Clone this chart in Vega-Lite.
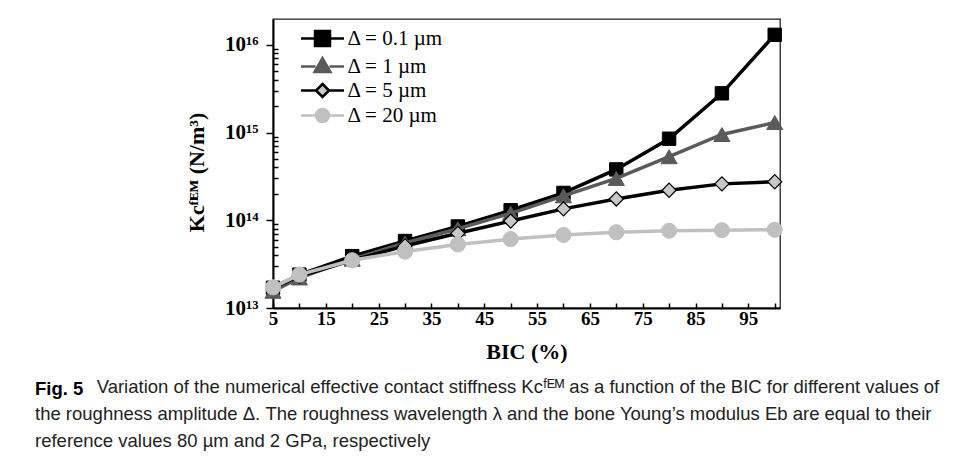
{
  "$schema": "https://vega.github.io/schema/vega-lite/v6.json",
  "width": 507,
  "height": 289,
  "autosize": "none",
  "padding": {"left": 273, "top": 19, "right": 179, "bottom": 161},
  "background": "white",
  "config": {
    "view": {"stroke": "#222", "strokeWidth": 1.3},
    "font": "Liberation Serif"
  },
  "data": {
    "values": [
      {"bic": 5, "k": 1.7e13, "d": "Δ = 0.1 µm"},
      {"bic": 10, "k": 2.4e13, "d": "Δ = 0.1 µm"},
      {"bic": 20, "k": 3.9e13, "d": "Δ = 0.1 µm"},
      {"bic": 30, "k": 5.8e13, "d": "Δ = 0.1 µm"},
      {"bic": 40, "k": 8.5e13, "d": "Δ = 0.1 µm"},
      {"bic": 50, "k": 1.3e14, "d": "Δ = 0.1 µm"},
      {"bic": 60, "k": 2.05e14, "d": "Δ = 0.1 µm"},
      {"bic": 70, "k": 3.8e14, "d": "Δ = 0.1 µm"},
      {"bic": 80, "k": 8.5e14, "d": "Δ = 0.1 µm"},
      {"bic": 90, "k": 2.8e15, "d": "Δ = 0.1 µm"},
      {"bic": 100, "k": 1.3e16, "d": "Δ = 0.1 µm"},
      {"bic": 5, "k": 1.55e13, "d": "Δ = 1 µm"},
      {"bic": 10, "k": 2.2e13, "d": "Δ = 1 µm"},
      {"bic": 20, "k": 3.6e13, "d": "Δ = 1 µm"},
      {"bic": 30, "k": 5.5e13, "d": "Δ = 1 µm"},
      {"bic": 40, "k": 8.0e13, "d": "Δ = 1 µm"},
      {"bic": 50, "k": 1.2e14, "d": "Δ = 1 µm"},
      {"bic": 60, "k": 1.9e14, "d": "Δ = 1 µm"},
      {"bic": 70, "k": 3.0e14, "d": "Δ = 1 µm"},
      {"bic": 80, "k": 5.3e14, "d": "Δ = 1 µm"},
      {"bic": 90, "k": 9.5e14, "d": "Δ = 1 µm"},
      {"bic": 100, "k": 1.3e15, "d": "Δ = 1 µm"},
      {"bic": 5, "k": 1.7e13, "d": "Δ = 5 µm"},
      {"bic": 10, "k": 2.3e13, "d": "Δ = 5 µm"},
      {"bic": 20, "k": 3.5e13, "d": "Δ = 5 µm"},
      {"bic": 30, "k": 5.1e13, "d": "Δ = 5 µm"},
      {"bic": 40, "k": 7.1e13, "d": "Δ = 5 µm"},
      {"bic": 50, "k": 9.8e13, "d": "Δ = 5 µm"},
      {"bic": 60, "k": 1.35e14, "d": "Δ = 5 µm"},
      {"bic": 70, "k": 1.75e14, "d": "Δ = 5 µm"},
      {"bic": 80, "k": 2.2e14, "d": "Δ = 5 µm"},
      {"bic": 90, "k": 2.6e14, "d": "Δ = 5 µm"},
      {"bic": 100, "k": 2.75e14, "d": "Δ = 5 µm"},
      {"bic": 5, "k": 1.72e13, "d": "Δ = 20 µm"},
      {"bic": 10, "k": 2.4e13, "d": "Δ = 20 µm"},
      {"bic": 20, "k": 3.5e13, "d": "Δ = 20 µm"},
      {"bic": 30, "k": 4.4e13, "d": "Δ = 20 µm"},
      {"bic": 40, "k": 5.3e13, "d": "Δ = 20 µm"},
      {"bic": 50, "k": 6.1e13, "d": "Δ = 20 µm"},
      {"bic": 60, "k": 6.8e13, "d": "Δ = 20 µm"},
      {"bic": 70, "k": 7.3e13, "d": "Δ = 20 µm"},
      {"bic": 80, "k": 7.6e13, "d": "Δ = 20 µm"},
      {"bic": 90, "k": 7.7e13, "d": "Δ = 20 µm"},
      {"bic": 100, "k": 7.8e13, "d": "Δ = 20 µm"}
    ]
  },
  "title": {
    "text": "Fig. 5",
    "subtitle": [
      "\u200b\u00a0\u00a0\u00a0\u00a0\u00a0\u00a0\u00a0\u00a0\u00a0\u00a0\u00a0\u00a0Variation of the numerical effective contact stiffness Kcᶠᴱᴹ as a function of the BIC for different values of",
      "the roughness amplitude Δ. The roughness wavelength λ and the bone Young’s modulus Eb are equal to their",
      "reference values 80 µm and 2 GPa, respectively"
    ],
    "orient": "bottom",
    "anchor": "start",
    "frame": "group",
    "dx": -238,
    "offset": 18,
    "font": "Liberation Sans",
    "fontSize": 18.5,
    "fontWeight": "bold",
    "color": "black",
    "subtitleFont": "Liberation Sans",
    "subtitleFontSize": 18.5,
    "subtitleColor": "#222",
    "subtitleLineHeight": 27,
    "subtitlePadding": -21
  },
  "encoding": {
    "x": {
      "field": "bic",
      "type": "quantitative",
      "scale": {"domain": [5, 101], "nice": false, "zero": false},
      "axis": {
        "values": [5, 10, 15, 20, 25, 30, 35, 40, 45, 50, 55, 60, 65, 70, 75, 80, 85, 90, 95, 100],
        "labelExpr": "datum.value % 10 == 5 ? datum.label : ''",
        "labelFlush": false,
        "labelOverlap": false,
        "grid": false,
        "tickSize": -5,
        "tickColor": "black",
        "tickWidth": 1.5,
        "domainColor": "black",
        "domainWidth": 2,
        "labelFont": "Liberation Serif",
        "labelFontWeight": "bold",
        "labelFontSize": 19,
        "labelColor": "black",
        "labelPadding": 6,
        "title": "BIC (%)",
        "titleFont": "Liberation Serif",
        "titleFontSize": 22,
        "titleFontWeight": "bold",
        "titleColor": "black",
        "titlePadding": 13
      }
    },
    "y": {
      "field": "k",
      "type": "quantitative",
      "scale": {"type": "log", "domain": [1e13, 1.97e16], "nice": false},
      "axis": {
        "values": [1e13, 2e13, 3e13, 4e13, 5e13, 6e13, 7e13, 8e13, 9e13, 1e14, 2e14, 3e14, 4e14, 5e14, 6e14, 7e14, 8e14, 9e14, 1e15, 2e15, 3e15, 4e15, 5e15, 6e15, 7e15, 8e15, 9e15, 1e16],
        "labelExpr": "datum.value == 1e13 ? '10¹³' : datum.value == 1e14 ? '10¹⁴' : datum.value == 1e15 ? '10¹⁵' : datum.value == 1e16 ? '10¹⁶' : ''",
        "labelOverlap": false,
        "grid": false,
        "tickSize": {"condition": {"test": "abs(log(datum.value)/LN10 - round(log(datum.value)/LN10)) < 0.000001", "value": 7}, "value": -5},
        "tickColor": "black",
        "tickWidth": 1.5,
        "domainColor": "black",
        "domainWidth": 2,
        "labelFont": "Liberation Serif",
        "labelFontWeight": "bold",
        "labelFontSize": 21,
        "labelColor": "black",
        "labelPadding": 8,
        "title": "Kcᶠᴱᴹ (N/m³)",
        "titleFont": "Liberation Serif",
        "titleFontSize": 22,
        "titleFontWeight": "bold",
        "titleColor": "black",
        "titlePadding": 16,
        "titleY": 153
      }
    }
  },
  "layer": [
    {"transform": [{"filter": {"field": "d", "equal": "Δ = 0.1 µm"}}], "mark": {"type": "line", "stroke": "black", "strokeWidth": 3.5}},
    {"transform": [{"filter": {"field": "d", "equal": "Δ = 0.1 µm"}}], "mark": {"type": "point", "shape": "square", "filled": true, "fill": "black", "stroke": "black", "strokeWidth": 1, "size": 180, "opacity": 1}},
    {"transform": [{"filter": {"field": "d", "equal": "Δ = 1 µm"}}], "mark": {"type": "line", "stroke": "#5a5a5a", "strokeWidth": 3.5}},
    {"transform": [{"filter": {"field": "d", "equal": "Δ = 1 µm"}}], "mark": {"type": "point", "shape": "triangle-up", "filled": true, "fill": "#5a5a5a", "stroke": "#5a5a5a", "strokeWidth": 1, "size": 260, "opacity": 1}},
    {"transform": [{"filter": {"field": "d", "equal": "Δ = 5 µm"}}], "mark": {"type": "line", "stroke": "black", "strokeWidth": 3.5}},
    {"transform": [{"filter": {"field": "d", "equal": "Δ = 5 µm"}}], "mark": {"type": "point", "shape": "diamond", "filled": true, "fill": "#c8c8c8", "stroke": "black", "strokeWidth": 1.2, "size": 200, "opacity": 1}},
    {"transform": [{"filter": {"field": "d", "equal": "Δ = 20 µm"}}], "mark": {"type": "line", "stroke": "#c0c0c0", "strokeWidth": 3.5}},
    {"transform": [{"filter": {"field": "d", "equal": "Δ = 20 µm"}}], "mark": {"type": "point", "shape": "circle", "filled": true, "fill": "#c0c0c0", "stroke": "#c0c0c0", "strokeWidth": 1, "size": 230, "opacity": 1}},
    {
      "mark": {"type": "point", "filled": true, "opacity": 0},
      "encoding": {
        "shape": {
          "field": "d", "type": "nominal",
          "scale": {
            "domain": ["Δ = 0.1 µm", "Δ = 1 µm", "Δ = 5 µm", "Δ = 20 µm"],
            "range": [
              "M-2.15,0H-0.75M0.75,0H2.15M-0.75,-0.75H0.75V0.75H-0.75Z",
              "M-2.15,0H-0.7M0.7,0H2.15M0,-0.85L0.8,0.55L-0.8,0.55Z",
              "M-2.15,0H-0.65M0.65,0H2.15M0,-0.65L0.65,0L0,0.65L-0.65,0Z",
              "M-2.15,0H-0.65M0.65,0H2.15M0.65,0A0.65,0.65,0,1,1,-0.65,0A0.65,0.65,0,1,1,0.65,0Z"
            ]
          },
          "legend": {
            "orient": "none",
            "legendX": 38,
            "legendY": 8,
            "title": null,
            "padding": 0,
            "labelFont": "Liberation Serif",
            "labelFontSize": 21,
            "labelColor": "black",
            "symbolSize": 400,
            "symbolStrokeWidth": 2.5,
            "labelOffset": 13.5,
            "rowPadding": 2,
            "symbolOpacity": 1
          }
        },
        "fill": {
          "field": "d", "type": "nominal",
          "scale": {"domain": ["Δ = 0.1 µm", "Δ = 1 µm", "Δ = 5 µm", "Δ = 20 µm"], "range": ["black", "#5a5a5a", "#c8c8c8", "#c0c0c0"]}
        },
        "stroke": {
          "field": "d", "type": "nominal",
          "scale": {"domain": ["Δ = 0.1 µm", "Δ = 1 µm", "Δ = 5 µm", "Δ = 20 µm"], "range": ["black", "#5a5a5a", "black", "#c0c0c0"]}
        }
      }
    }
  ]
}
